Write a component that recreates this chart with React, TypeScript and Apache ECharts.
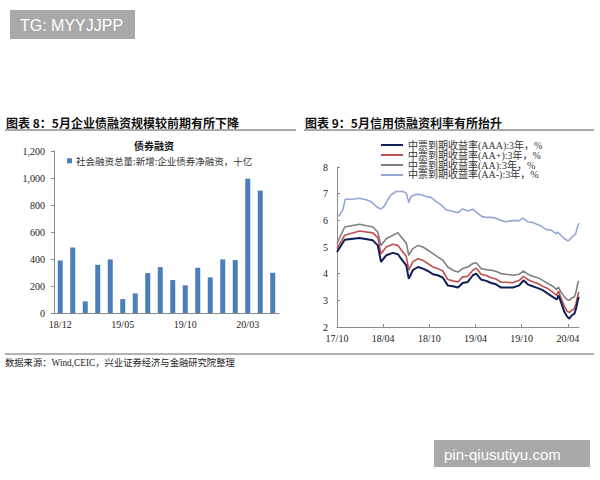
import React, { useEffect, useRef } from "react";
import * as echarts from "echarts";

// ---- Chart 8: bond financing (bars) ----
const barCategories = [
  "18/12", "19/01", "19/02", "19/03", "19/04", "19/05", "19/06", "19/07", "19/08",
  "19/09", "19/10", "19/11", "19/12", "20/01", "20/02", "20/03", "20/04", "20/05",
];
const bondFinancing = [389, 485, 86, 357, 397, 103, 145, 296, 340, 244, 205, 335, 264, 397, 392, 995, 907, 298];
const barSeriesName = "社会融资总量:新增:企业债券净融资，十亿";

// ---- Chart 9: MTN yields ----
const rateDates = [
  "2017-10-01", "2017-11-01", "2017-12-29", "2018-02-21", "2018-03-10", "2018-03-23", "2018-04-13",
  "2018-05-09", "2018-05-29", "2018-06-11", "2018-07-01", "2018-07-11", "2018-07-27", "2018-08-17",
  "2018-09-06", "2018-09-26", "2018-10-15", "2018-11-04", "2018-11-24", "2018-12-13", "2019-01-03",
  "2019-01-23", "2019-02-11", "2019-03-01", "2019-03-21", "2019-04-04", "2019-04-23", "2019-05-13",
  "2019-06-02", "2019-06-21", "2019-07-11", "2019-07-31", "2019-08-27", "2019-09-22", "2019-10-08",
  "2019-10-25", "2019-11-14", "2019-12-04", "2019-12-23", "2020-01-13", "2020-02-02", "2020-02-18",
  "2020-02-25", "2020-03-04", "2020-03-18", "2020-03-28", "2020-04-07", "2020-04-17", "2020-04-27",
  "2020-05-03", "2020-05-10", "2020-05-14",
];
const yieldAAA = [
  4.81, 5.27, 5.34, 5.25, 5.06, 4.44, 4.69, 4.78, 4.73, 4.56, 4.31, 3.81, 4.13, 4.25, 4.19, 4.10, 3.98,
  3.94, 3.85, 3.56, 3.53, 3.48, 3.65, 3.69, 3.94, 4.00, 3.78, 3.73, 3.65, 3.60, 3.48, 3.48, 3.48, 3.56,
  3.75, 3.60, 3.53, 3.46, 3.38, 3.25, 3.13, 3.03, 3.19, 2.94, 2.56, 2.40, 2.31, 2.44, 2.50, 2.69, 3.00, 3.13,
];
const yieldAAPlus = [
  4.94, 5.44, 5.60, 5.53, 5.35, 4.75, 5.00, 5.10, 5.06, 4.90, 4.65, 4.13, 4.44, 4.56, 4.50, 4.38, 4.25,
  4.19, 4.10, 3.78, 3.73, 3.69, 3.88, 3.90, 4.13, 4.21, 3.98, 3.93, 3.85, 3.80, 3.68, 3.68, 3.66, 3.75,
  3.90, 3.78, 3.70, 3.63, 3.53, 3.44, 3.31, 3.19, 3.35, 3.10, 2.78, 2.60, 2.54, 2.63, 2.69, 2.88, 3.19, 3.31,
];
const yieldAA = [
  5.13, 5.75, 5.85, 5.75, 5.56, 5.06, 5.31, 5.44, 5.54, 5.38, 5.15, 4.69, 4.94, 5.06, 5.00, 4.88, 4.75,
  4.63, 4.50, 4.25, 4.13, 4.06, 4.19, 4.25, 4.38, 4.41, 4.19, 4.15, 4.13, 4.09, 4.00, 3.98, 3.94, 3.98,
  4.10, 3.98, 3.90, 3.85, 3.75, 3.63, 3.53, 3.40, 3.50, 3.31, 3.13, 3.03, 3.00, 3.10, 3.13, 3.31, 3.65, 3.73,
];
const aaMinusDates = [
  "2017-10-01", "2017-10-11", "2017-10-24", "2017-11-03", "2017-12-03", "2017-12-29", "2018-01-25",
  "2018-02-14", "2018-02-28", "2018-03-10", "2018-03-23", "2018-04-06", "2018-04-19", "2018-05-02",
  "2018-05-22", "2018-06-18", "2018-07-01", "2018-07-11", "2018-07-20", "2018-08-10", "2018-08-30",
  "2018-09-19", "2018-10-08", "2018-10-28", "2018-11-17", "2018-12-07", "2019-01-03", "2019-01-23",
  "2019-02-11", "2019-03-01", "2019-03-21", "2019-04-10", "2019-04-27", "2019-05-13", "2019-06-02",
  "2019-06-21", "2019-07-11", "2019-07-31", "2019-08-27", "2019-09-22", "2019-10-06", "2019-10-25",
  "2019-11-14", "2019-12-10", "2020-01-06", "2020-01-26", "2020-02-15", "2020-02-21", "2020-03-04",
  "2020-03-18", "2020-04-01", "2020-04-09", "2020-04-20", "2020-05-01", "2020-05-07", "2020-05-14",
];
const yieldAAMinus = [
  6.11, 6.20, 6.39, 6.79, 6.79, 6.83, 6.77, 6.70, 6.58, 6.48, 6.42, 6.54, 6.77, 6.96, 7.08, 7.08, 7.02,
  6.67, 6.89, 6.98, 6.96, 6.89, 6.86, 6.70, 6.58, 6.39, 6.33, 6.29, 6.43, 6.35, 6.42, 6.26, 6.14, 6.11,
  6.11, 6.08, 5.99, 5.95, 5.99, 5.99, 6.08, 5.95, 5.92, 5.82, 5.66, 5.63, 5.50, 5.56, 5.44, 5.31, 5.23,
  5.28, 5.40, 5.48, 5.69, 5.90,
];
const rateXTicks = ["17/10", "18/04", "18/10", "19/04", "19/10", "20/04"];
const rateNames = [
  "中票到期收益率(AAA):3年，%",
  "中票到期收益率(AA+):3年，%",
  "中票到期收益率(AA):3年，%",
  "中票到期收益率(AA-):3年，%",
];
const rateColors = ["#0f1f5a", "#c0504d", "#808080", "#93a6d6"];

const SERIF = "'Liberation Serif', 'Noto Sans CJK SC', serif";
const CJK = "'Noto Sans CJK SC', sans-serif";

const toMonths = (s: string) => {
  const [y, m, d] = s.split("-").map(Number);
  return (y - 2017) * 12 + (m - 10) + (d - 1) / 30.4;
};
const pairs = (dates: string[], vals: number[]) => dates.map((d, i) => [toMonths(d), vals[i]]);

export default function App() {
  const ref = useRef<HTMLDivElement>(null);
  useEffect(() => {
    if (!ref.current) return;
    const chart = echarts.init(ref.current, undefined, { renderer: "svg" });
    const axisColor = "#8a8a8a";
    const labelColor = "#222";
    chart.setOption({
      animation: false,
      backgroundColor: "#fff",
      grid: [
        { left: 54, top: 151, width: 225, height: 162 },
        { left: 337, top: 167, width: 242, height: 160 },
      ],
      legend: [
        {
          data: [{ name: barSeriesName, icon: "rect" }],
          left: 62,
          top: 151,
          itemWidth: 5,
          itemHeight: 5,
          itemGap: 0,
          textStyle: { fontFamily: CJK, fontSize: 9.5, color: "#333", padding: [0, 0, 0, -1] },
        },
        {
          data: rateNames.map((n) => ({ name: n, icon: "rect" })),
          orient: "vertical",
          left: 376,
          top: 135,
          itemWidth: 22,
          itemHeight: 2,
          itemGap: 0,
          textStyle: { fontFamily: SERIF, fontSize: 10, lineHeight: 9.6, color: "#333" },
        },
      ],
      xAxis: [
        {
          gridIndex: 0,
          type: "category",
          data: barCategories,
          boundaryGap: true,
          axisLine: { lineStyle: { color: axisColor } },
          axisTick: { show: false },
          axisLabel: { interval: 4, margin: 6, fontFamily: SERIF, fontSize: 10, color: labelColor },
        },
        {
          gridIndex: 1,
          type: "value",
          min: 0,
          max: 31.45,
          interval: 6,
          splitLine: { show: false },
          axisLine: { lineStyle: { color: axisColor } },
          axisTick: { inside: true, length: 3, lineStyle: { color: axisColor } },
          axisLabel: {
            margin: 6,
            fontFamily: SERIF,
            fontSize: 10,
            color: labelColor,
            showMaxLabel: false,
            formatter: (v: number) => {
              const i = Math.round(v / 6);
              return Math.abs(v - i * 6) < 0.01 ? rateXTicks[i] ?? "" : "";
            },
          },
        },
      ],
      yAxis: [
        {
          gridIndex: 0,
          type: "value",
          min: 0,
          max: 1200,
          interval: 200,
          splitLine: { show: false },
          axisLine: { show: true, lineStyle: { color: axisColor } },
          axisTick: { show: true, length: 3, lineStyle: { color: axisColor } },
          axisLabel: {
            margin: 9,
            fontFamily: SERIF,
            fontSize: 10,
            color: labelColor,
            formatter: (v: number) => v.toLocaleString("en-US"),
          },
        },
        {
          gridIndex: 1,
          type: "value",
          min: 2,
          max: 8,
          interval: 1,
          splitLine: { show: false },
          axisLine: { show: true, lineStyle: { color: axisColor } },
          axisTick: { show: true, inside: true, length: 3, lineStyle: { color: axisColor } },
          axisLabel: { margin: 9, fontFamily: SERIF, fontSize: 10, color: labelColor },
        },
      ],
      series: [
        {
          name: barSeriesName,
          type: "bar",
          xAxisIndex: 0,
          yAxisIndex: 0,
          data: bondFinancing,
          barWidth: 5,
          itemStyle: { color: "#4a7ebb" },
        },
        {
          name: rateNames[3],
          type: "line",
          xAxisIndex: 1,
          yAxisIndex: 1,
          data: pairs(aaMinusDates, yieldAAMinus),
          showSymbol: false,
          lineStyle: { width: 1.6, color: rateColors[3] },
          itemStyle: { color: rateColors[3] },
        },
        {
          name: rateNames[2],
          type: "line",
          xAxisIndex: 1,
          yAxisIndex: 1,
          data: pairs(rateDates, yieldAA),
          showSymbol: false,
          lineStyle: { width: 1.6, color: rateColors[2] },
          itemStyle: { color: rateColors[2] },
        },
        {
          name: rateNames[1],
          type: "line",
          xAxisIndex: 1,
          yAxisIndex: 1,
          data: pairs(rateDates, yieldAAPlus),
          showSymbol: false,
          lineStyle: { width: 1.6, color: rateColors[1] },
          itemStyle: { color: rateColors[1] },
        },
        {
          name: rateNames[0],
          type: "line",
          xAxisIndex: 1,
          yAxisIndex: 1,
          data: pairs(rateDates, yieldAAA),
          showSymbol: false,
          lineStyle: { width: 2, color: rateColors[0] },
          itemStyle: { color: rateColors[0] },
        },
      ],
      graphic: [
        { type: "rect", shape: { x: 10, y: 10, width: 125, height: 29 }, style: { fill: "#a9a9a9" } },
        {
          type: "text",
          x: 20,
          y: 25,
          style: { text: "TG: MYYJJPP", fill: "#fff", font: "16px 'Liberation Sans', Arial, sans-serif", verticalAlign: "middle" },
        },
        { type: "rect", shape: { x: 434, y: 440, width: 156, height: 27 }, style: { fill: "#a9a9a9" } },
        {
          type: "text",
          x: 444,
          y: 454,
          style: { text: "pin-qiusutiyu.com", fill: "#fff", font: "15px 'Liberation Sans', Arial, sans-serif", verticalAlign: "middle" },
        },
        {
          type: "text",
          x: 6,
          y: 122,
          style: { text: "图表 8：5月企业债融资规模较前期有所下降", fill: "#111", font: `bold 12px ${CJK}`, verticalAlign: "middle" },
        },
        {
          type: "text",
          x: 305,
          y: 122,
          style: { text: "图表 9：5月信用债融资利率有所抬升", fill: "#111", font: `bold 12px ${CJK}`, verticalAlign: "middle" },
        },
        { type: "line", shape: { x1: 5, y1: 130, x2: 296, y2: 130 }, style: { stroke: "#555", lineWidth: 1 } },
        { type: "line", shape: { x1: 304, y1: 130, x2: 594, y2: 130 }, style: { stroke: "#555", lineWidth: 1 } },
        {
          type: "text",
          x: 154,
          y: 145,
          style: { text: "债券融资", fill: "#111", font: `bold 10px ${CJK}`, align: "center", verticalAlign: "middle" },
        },
        { type: "line", shape: { x1: 5, y1: 354, x2: 594, y2: 354 }, style: { stroke: "#666", lineWidth: 1 } },
        {
          type: "text",
          x: 5,
          y: 362.5,
          style: { text: "数据来源：Wind,CEIC，兴业证券经济与金融研究院整理", fill: "#222", font: `9.3px ${SERIF}`, verticalAlign: "middle" },
        },
      ],
    });
    return () => chart.dispose();
  }, []);
  return <div ref={ref} style={{ position: "fixed", left: 0, top: 0, width: 600, height: 480 }} />;
}
